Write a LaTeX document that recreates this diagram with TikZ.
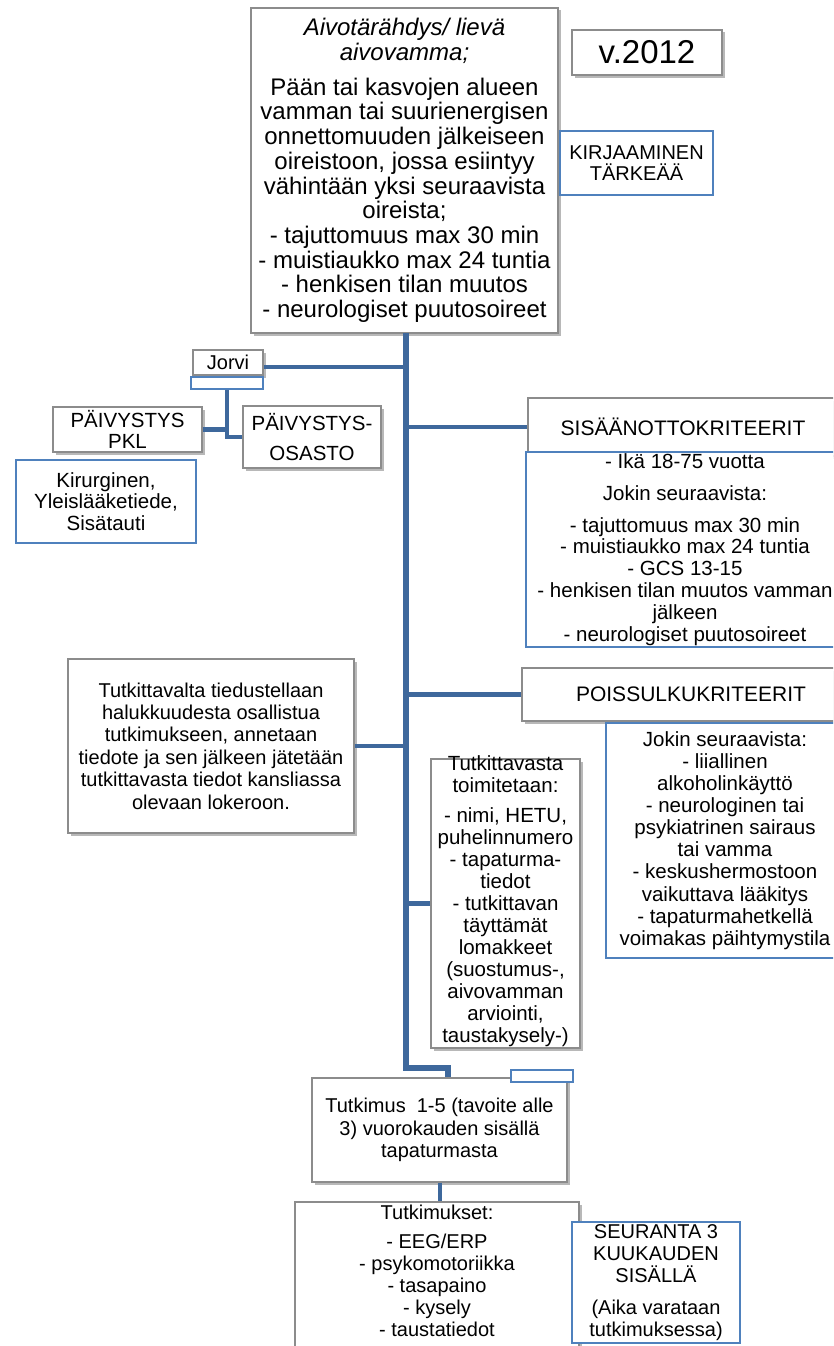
\documentclass[tikz,border=0pt]{standalone}
\usepackage{fontspec}
\setmainfont{Liberation Sans}
\usetikzlibrary{shadows}
\definecolor{spinec}{RGB}{62,104,156}
\definecolor{bluebd}{RGB}{79,129,189}
\definecolor{graybd}{RGB}{140,140,140}
\newcommand\myfs[2]{\fontsize{#1}{#2}\selectfont}
\tikzset{
  graybox/.style={draw=graybd, line width=1.2pt, fill=white, inner sep=0pt, align=center,
    drop shadow={shadow xshift=2.5pt, shadow yshift=-2.5pt, opacity=0.28, fill=black}},
  bluebox/.style={draw=bluebd, line width=1.5pt, fill=white, inner sep=0pt, align=center},
  txt/.style={inner sep=0pt, align=center},
  spineline/.style={draw=spinec, line width=5.5pt},
  branch/.style={draw=spinec, line width=4.5pt},
}
\begin{document}
\begin{tikzpicture}[x=1pt,y=-1pt]
\useasboundingbox (0,0) rectangle (833,1346);
\clip (0,0) rectangle (833,1346);

% top box
\node[graybox, minimum width=307pt, minimum height=325pt, font=\myfs{24}{24.7}] (top) at (404.5,170.5)
 {\textit{Aivotärähdys/ lievä}\\\textit{aivovamma;}\\[10pt]Pään tai kasvojen alueen\\vamman tai suurienergisen\\onnettomuuden jälkeiseen\\oireistoon, jossa esiintyy\\vähintään yksi seuraavista\\oireista;\\- tajuttomuus max 30 min\\- muistiaukko max 24 tuntia\\- henkisen tilan muutos\\- neurologiset puutosoireet};

\node[graybox, minimum width=150pt, minimum height=45pt, font=\myfs{33}{36}] (ver) at (647,52.5) {v.2012};

\node[bluebox, minimum width=153pt, minimum height=64pt, font=\myfs{20}{21.5}] (kirj) at (636.5,163) {KIRJAAMINEN\\TÄRKEÄÄ};

% Jorvi group
\node[graybox, minimum width=70pt, minimum height=25pt, font=\myfs{20}{22}] (jorvi) at (228,362.5) {Jorvi};
\node[bluebox, minimum width=72pt, minimum height=12pt] (jorvib) at (227,383) {};
\node[graybox, minimum width=149pt, minimum height=45pt, font=\myfs{20.5}{21}] (pkl) at (127.5,429.5) {PÄIVYSTYS\\PKL};
\node[graybox, minimum width=138pt, minimum height=62pt, font=\myfs{20.5}{30}] (osasto) at (312,437) {PÄIVYSTYS-\\OSASTO};
\node[bluebox, minimum width=180pt, minimum height=83pt, font=\myfs{20.5}{21.7}] (kir) at (106,501.5) {Kirurginen,\\Yleislääketiede,\\Sisätauti};

% Sisäänotto
\node[graybox, minimum width=310pt, minimum height=58pt, font=\myfs{21}{24}] (sis) at (683,427) {SISÄÄNOTTOKRITEERIT};
\node[bluebox, minimum width=318pt, minimum height=195pt, font=\myfs{20.5}{21.8}] (sisb) at (685,549.5)
 {- Ikä 18-75 vuotta\\[10pt]Jokin seuraavista:\\[10pt]- tajuttomuus max 30 min\\- muistiaukko max 24 tuntia\\- GCS 13-15\\- henkisen tilan muutos vamman\\jälkeen\\- neurologiset puutosoireet};

% Poissulku
\node[graybox, minimum width=338pt, minimum height=53pt, font=\myfs{21}{24}] (pois) at (691,694.5) {POISSULKUKRITEERIT};
\node[bluebox, minimum width=238pt, minimum height=235pt, font=\myfs{20.5}{22.1}] (poisb) at (725,840.5)
 {Jokin seuraavista:\\- liiallinen\\alkoholinkäyttö\\- neurologinen tai\\psykiatrinen sairaus\\tai vamma\\- keskushermostoon\\vaikuttava lääkitys\\- tapaturmahetkellä\\voimakas päihtymystila};

% Tutkittavalta
\node[graybox, minimum width=286pt, minimum height=174pt, font=\myfs{20}{22.4}] (tutv) at (211,746)
 {Tutkittavalta tiedustellaan\\halukkuudesta osallistua\\tutkimukseen, annetaan\\tiedote ja sen jälkeen jätetään\\tutkittavasta tiedot kansliassa\\olevaan lokeroon.};

% Tutkittavasta
\node[graybox, minimum width=149pt, minimum height=289pt] (tuts) at (505.5,903.5) {};
\node[txt, font=\myfs{20.5}{22}] (tutst) at (505.5,901)
 {Tutkittavasta\\toimitetaan:\\[8pt]- nimi, HETU,\\puhelinnumero\\- tapaturma-\\tiedot\\- tutkittavan\\täyttämät\\lomakkeet\\(suostumus-,\\aivovamman\\arviointi,\\taustakysely-)};

% Tutkimus 1-5
\node[graybox, minimum width=255pt, minimum height=104pt, font=\myfs{20}{22.5}] (tutk) at (439.5,1130)
 {Tutkimus\ \ 1-5 (tavoite alle\\3) vuorokauden sisällä\\tapaturmasta};
\node[bluebox, minimum width=62pt, minimum height=12pt] (tutkb) at (542,1076) {};

% Tutkimukset
\node[graybox, minimum width=284pt, minimum height=178pt] (tutks) at (437,1291) {};
\node[txt, anchor=north, font=\myfs{20}{22}] (tutkst) at (437,1205)
 {Tutkimukset:\\[7pt]- EEG/ERP\\- psykomotoriikka\\- tasapaino\\- kysely\\- taustatiedot};

\node[bluebox, minimum width=168pt, minimum height=121pt, font=\myfs{20}{21.8}] (seur) at (656,1282.5)
 {SEURANTA 3\\KUUKAUDEN\\SISÄLLÄ\\[10pt](Aika varataan\\tutkimuksessa)};

% connectors
\coordinate (spT) at (406,333);
\coordinate (spB) at (406,1068);
\coordinate (spE) at ([xshift=8.5pt]tutk.north);
\draw[spineline] (spT) -- (spB) -| (spE);
\coordinate (jv) at ([yshift=-4.5pt]jorvi.east);
\draw[branch] (jv) -- (jv -| spT);
\draw[branch] (sis.west) -- (sis.west -| spT);
\draw[branch] (pois.west) -- (pois.west -| spT);
\draw[branch] (tutv.east) -- (tutv.east -| spT);
\draw[branch] (tuts.west) -- (tuts.west -| spT);
\draw[branch] (jorvib.south) |- (osasto.west);
\draw[branch] (pkl.east) -- (pkl.east -| jorvib.south);
\draw[branch, line width=4pt] (tutk.south) -- (tutk.south |- tutks.north);
\end{tikzpicture}
\end{document}
